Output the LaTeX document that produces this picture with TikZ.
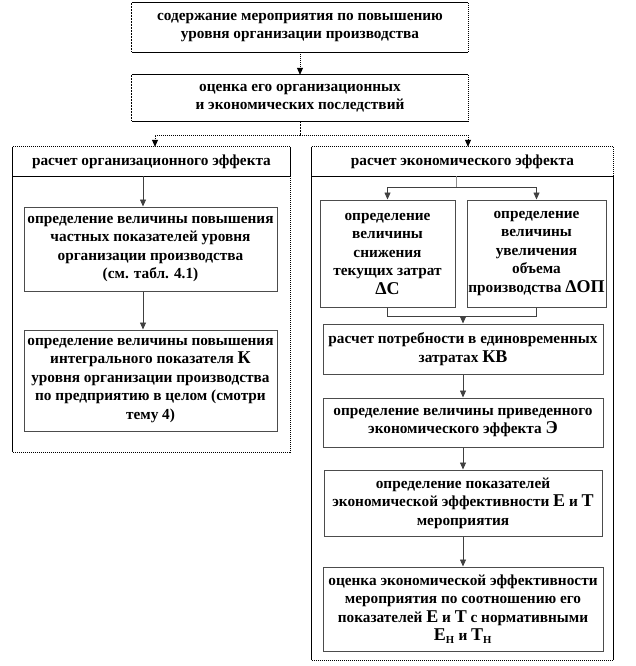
\documentclass[tikz,border=0pt]{standalone}
\usepackage{fontspec}
\setmainfont{Liberation Serif}
\usetikzlibrary{arrows.meta}
\newcommand\Lg[1]{{\fontsize{18}{18.5}\selectfont #1}}
\begin{document}
\begin{tikzpicture}[x=1pt,y=-1pt,
  txt/.style={align=center,font=\fontsize{15.3}{18.5}\selectfont\bfseries,inner sep=0pt},
  inbox/.style={txt,draw=black!70,line width=1pt},
  plain/.style={txt},
  arr/.style={-{Triangle[width=6pt,length=7pt]},line width=0.8pt,draw=black!75},
  dots/.style={dash pattern=on 1pt off 1pt,line width=0.8pt},
  fdash/.style={dash pattern=on 2pt off 1pt,line width=0.8pt},
  edge/.style={line width=0.8pt}
]
\useasboundingbox[fill=white] (0,0) rectangle (636,666);

% top boxes
\node[plain,minimum width=336pt,minimum height=49pt] (T) at (300,27.5)
  {содержание мероприятия по повышению\\уровня  организации производства};
\node[plain,minimum width=336pt,minimum height=46pt] (O) at (300,98)
  {оценка его  организационных\\и экономических последствий};
\foreach \n in {T,O}{
  \draw[edge] (\n.north west) -- (\n.north east);
  \draw[edge] (\n.south west) -- (\n.south east);
  \draw[fdash] (\n.north west) -- (\n.south west);
  \draw[dots] (\n.north east) -- (\n.south east);
}

% headers and frames
\node[plain,minimum width=277pt,minimum height=29pt] (LH) at (151.5,161.5)
  {расчет организационного  эффекта};
\node[minimum width=277pt,minimum height=276pt,inner sep=0pt] (LB) at (151.5,314) {};
\node[plain,minimum width=301pt,minimum height=29pt] (RH) at (462.5,161.5)
  {расчет экономического эффекта};
\node[minimum width=301pt,minimum height=484pt,inner sep=0pt] (RB) at (462.5,418) {};

\draw[dots] (LH.north west) -- (LH.north east);
\draw[edge] (LH.north west) -- (LH.south west) -- (LH.south east) -- (LH.north east);
\draw[edge] (LB.north west) -- (LB.south west);
\draw[dots] (LB.north east) -- (LB.south east);
\draw[dots] (LB.south west) -- (LB.south east);

\draw[dots] (RH.north west) -- (RH.north east) -- (RH.south east);
\draw[edge] (RH.north west) -- (RH.south west) -- (RH.south east);
\draw[edge] (RB.north west) -- (RB.south west);
\draw[edge] (RB.north east) -- (RB.south east);
\draw[dots] (RB.south west) -- (RB.south east);

% left column
\node[inbox,minimum width=253pt,minimum height=84pt] (A) at (150.5,249)
  {определение величины повышения\\частных показателей уровня\\организации производства\\(см. табл. 4.1)};
\node[inbox,minimum width=253pt,minimum height=101pt] (B) at (150.5,380.5)
  {определение величины повышения\\интегрального показателя  \Lg{К}\\уровня  организации производства\\по предприятию в целом (смотри\\тему 4)};

% right column
\node[inbox,minimum width=135pt,minimum height=107pt] (C) at (387.5,253.5)
  {определение\\величины\\снижения\\текущих  затрат\\\Lg{ΔС}};
\node[inbox,minimum width=139pt,minimum height=107pt] (D) at (536.5,253.5)
  {определение\\величины\\увеличения\\объема\\производства \Lg{ΔОП}};
\node[inbox,minimum width=280pt,minimum height=50pt] (E) at (463,349)
  {расчет потребности в  единовременных\\затратах \Lg{КВ}};
\node[inbox,minimum width=280pt,minimum height=49pt] (F) at (463,422.5)
  {определение величины приведенного\\экономического  эффекта  \Lg{Э}};
\node[inbox,minimum width=278pt,minimum height=66pt] (G) at (463,503)
  {определение показателей\\экономической  эффективности \Lg{Е} и \Lg{Т}\\мероприятия};
\node[inbox,minimum width=280pt,minimum height=84pt] (H) at (463,609)
  {оценка экономической  эффективности\\мероприятия по соотношению его\\показателей \Lg{Е} и \Lg{Т} с нормативными\\\Lg{Е}\textsubscript{Н} и \Lg{Т}\textsubscript{Н}};

% connectors: top
\draw[dots,arr,draw=black] (T.south) -- (O.north);
\coordinate (j0) at (300,135);
\coordinate (xl) at (155,0);
\coordinate (xr) at (468,0);
\draw[fdash] (O.south) -- (j0);
\draw[dots,arr,draw=black] (j0) -| (LH.north -| xl);
\draw[dots,arr,draw=black] (j0) -| (RH.north -| xr);

% left column connectors
\coordinate (xa) at (143,0);
\draw[arr] (LH.south -| xa) -- (A.north -| xa);
\draw[arr] (A.south -| xa) -- (B.north -| xa);

% right column connectors
\coordinate (j1) at (456,187);
\draw[line width=1pt,draw=black!45] (RH.south -| j1) -- (j1);
\draw[arr] (j1) -| (C.north);
\draw[arr] (j1) -| (D.north);
\coordinate (j2) at (463,316);
\draw[line width=0.8pt,draw=black!75] (C.south) |- (j2);
\draw[line width=0.8pt,draw=black!75] (D.south) |- (j2);
\draw[arr] (j2) -- (E.north);
\draw[arr] (E.south) -- (F.north);
\draw[arr] (F.south) -- (G.north);
\draw[arr] (G.south) -- (H.north);
\end{tikzpicture}
\end{document}
